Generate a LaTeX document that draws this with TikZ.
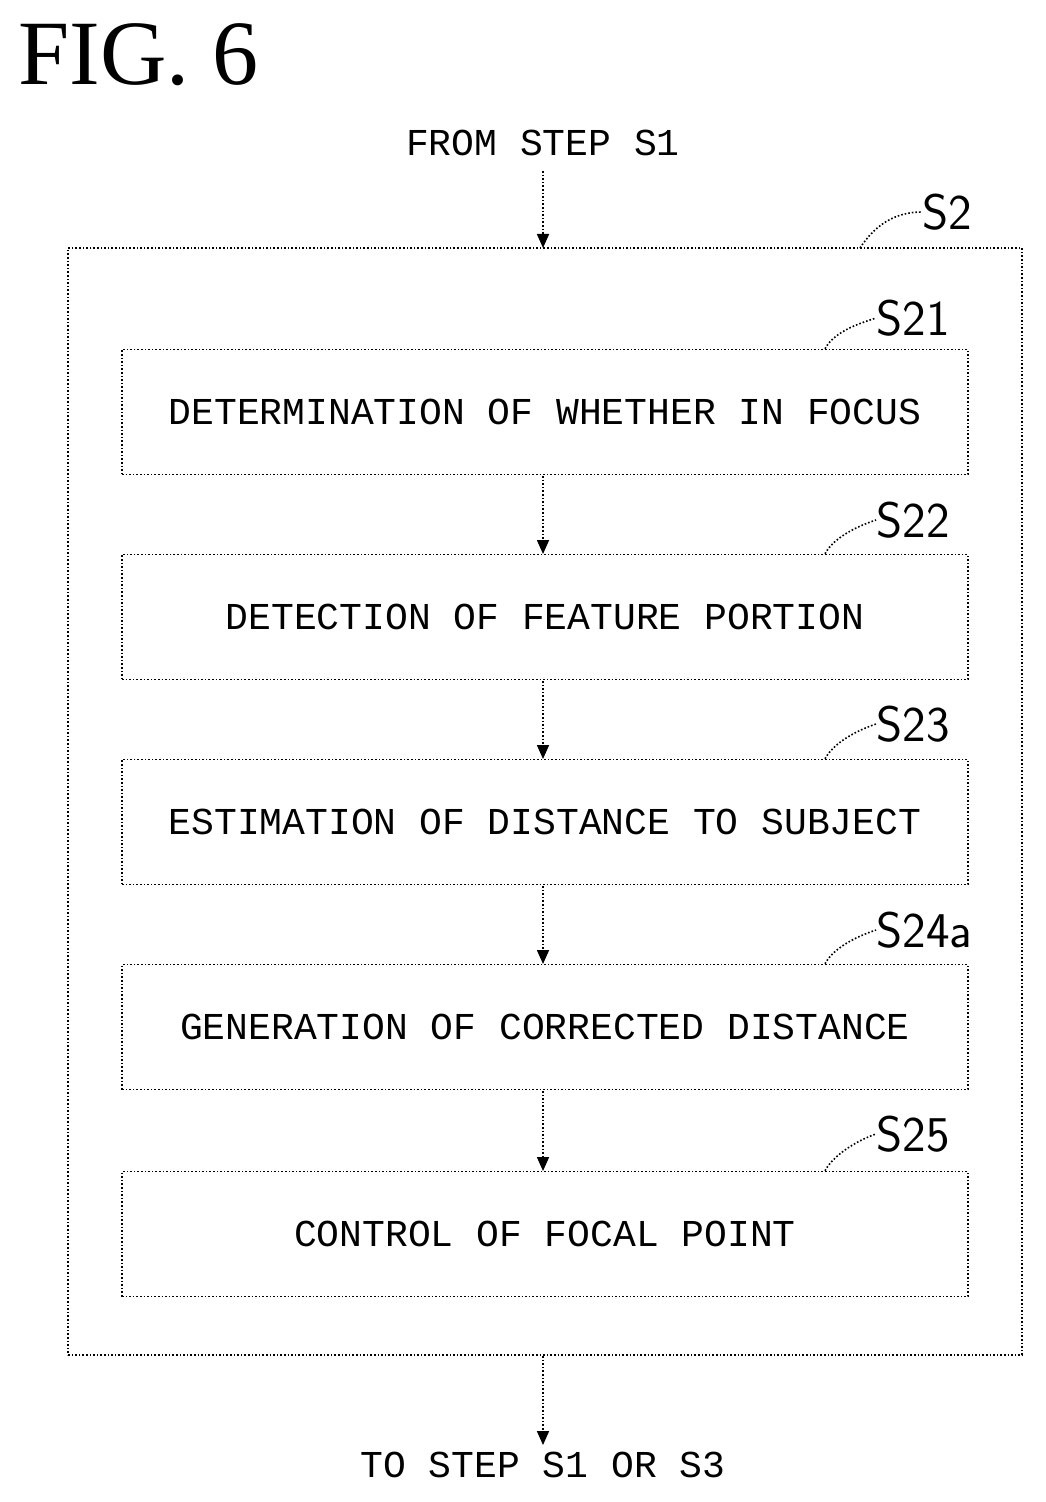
\documentclass[tikz,border=0pt]{standalone}
\usepackage{fontspec}
\setmonofont{Liberation Mono}
\setmainfont{Liberation Serif}
\usetikzlibrary{arrows.meta}
\begin{document}
\begin{tikzpicture}[x=0.5pt,y=-0.5pt,
  stepbox/.style={draw,densely dotted,line width=0.8pt,minimum width=423pt,minimum height=62.5pt,inner sep=0pt,font=\ttfamily\fontsize{19}{19}\selectfont},
  lbl/.style={font=\sffamily\fontsize{25}{25}\selectfont,anchor=west,inner sep=0pt},
  flow/.style={densely dotted,line width=0.8pt,-{Triangle[width=6pt,length=7pt]}},
  lead/.style={densely dotted,line width=0.8pt},
  txt/.style={font=\ttfamily\fontsize{19}{19}\selectfont}]
\useasboundingbox (0,0) rectangle (1045,1502);
\node[anchor=west,font=\fontsize{46}{46}\selectfont,inner sep=0pt] (fig) at (18,55) {FIG. 6};
\node[txt] (from) at (543,143) {FROM STEP S1};
\node[draw,densely dotted,line width=0.8pt,minimum width=477pt,minimum height=553.5pt,inner sep=0pt] (outer) at (545,801.5) {};
\node[stepbox] (b1) at (545,412) {DETERMINATION OF WHETHER IN FOCUS};
\node[stepbox] (b2) at (545,617) {DETECTION OF FEATURE PORTION};
\node[stepbox] (b3) at (545,822) {ESTIMATION OF DISTANCE TO SUBJECT};
\node[stepbox] (b4) at (545,1027) {GENERATION OF CORRECTED DISTANCE};
\node[stepbox] (b5) at (545,1234) {CONTROL OF FOCAL POINT};
\node[txt] (to) at (543,1465) {TO STEP S1 OR S3};
\coordinate (c0) at (543,248);
\draw[flow] (from.south) ++(0,8) coordinate (f0) -- (c0);
\draw[flow] (543,476) -- (543,554);
\draw[flow] (543,681) -- (543,759);
\draw[flow] (543,886) -- (543,964);
\draw[flow] (543,1091) -- (543,1171);
\draw[flow] (543,1356) -- (to.north);
\node[lbl] (s2) at (922,212) {S2};
\node[lbl] (s21) at (876,318) {S21};
\node[lbl] (s22) at (876,520) {S22};
\node[lbl] (s23) at (876,724) {S23};
\node[lbl] (s24) at (876,930) {S24a};
\node[lbl] (s25) at (876,1134) {S25};
\draw[lead] (860,248) .. controls (875,225) and (895,212) .. (s2.west);
\foreach \b/\s in {b1/s21,b2/s22,b3/s23,b4/s24,b5/s25}{
  \draw[lead] ([xshift=140pt]\b.north) .. controls +(10,-18) and +(-15,5) .. (\s.west);
}
\end{tikzpicture}
\end{document}
